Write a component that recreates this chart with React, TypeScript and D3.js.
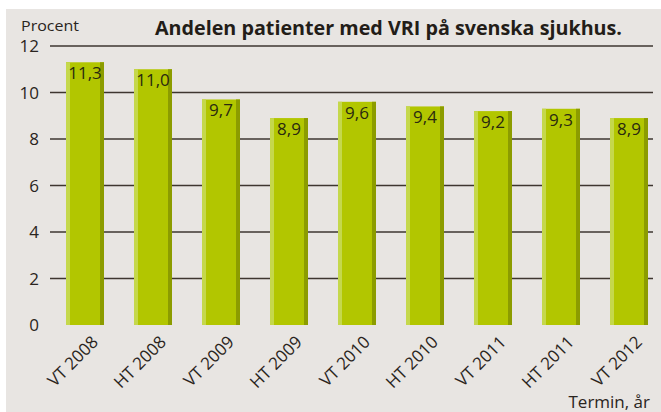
import React from "react";
import * as d3 from "d3";

const categories = ["VT 2008", "HT 2008", "VT 2009", "HT 2009", "VT 2010", "HT 2010", "VT 2011", "HT 2011", "VT 2012"];
const values = [11.3, 11.0, 9.7, 8.9, 9.6, 9.4, 9.2, 9.3, 8.9];
const labels = ["11,3", "11,0", "9,7", "8,9", "9,6", "9,4", "9,2", "9,3", "8,9"];
const yTicks = [0, 2, 4, 6, 8, 10, 12];
const title = "Andelen patienter med VRI på svenska sjukhus.";

const W = 661;
const H = 412;
const FONT = "'Open Sans', 'Noto Sans', sans-serif";

export default function App() {
  const x = d3.scalePoint<string>().domain(categories).range([85, 629]);
  const y = d3.scaleLinear().domain([0, 12]).range([325, 46]);
  const bw = 38;
  const stripe = 4;
  return (
    <svg width={W} height={H} style={{ position: "absolute", left: 0, top: 0 }} fontFamily={FONT}>
      <rect x={6} y={9} width={W - 6} height={H - 9} fill="#e8e5e2" />
      <text x={21} y={31} fontSize={15} fill="#2a2420" textLength={58} lengthAdjust="spacingAndGlyphs">Procent</text>
      <text x={155} y={35} fontSize={20} fontWeight="bold" fill="#231d18" textLength={467} lengthAdjust="spacingAndGlyphs">{title}</text>
      {yTicks.map((t) => (
        <g key={t}>
          {t > 0 && (
            <line x1={50} x2={653} y1={y(t)} y2={y(t)} stroke="#3e3630" strokeWidth={1.5} />
          )}
          <text x={39} y={y(t)} dy="0.36em" textAnchor="end" fontSize={17} fill="#2a2420">{t}</text>
        </g>
      ))}
      {categories.map((c, i) => {
        const cx = x(c)!;
        const top = y(values[i]);
        const h = y(0) - top;
        return (
          <g key={c}>
            <rect x={cx - bw / 2} y={top} width={bw} height={h} fill="#b2c600" />
            <rect x={cx - bw / 2} y={top} width={stripe} height={h} fill="#c5d84c" />
            <rect x={cx + bw / 2 - stripe} y={top} width={stripe} height={h} fill="#8c9c00" />
            <text x={cx} y={top + 17} textAnchor="middle" fontSize={17} fill="#2a2a10">{labels[i]}</text>
            <text
              transform={`translate(${cx + 10},${y(0) + 14}) rotate(-45)`}
              textAnchor="end"
              dy="0.35em"
              fontSize={17}
              fill="#2a2420"
            >
              {c}
            </text>
          </g>
        );
      })}
      <text x={650} y={408} textAnchor="end" fontSize={17} fill="#2a2420">Termin, år</text>
    </svg>
  );
}
